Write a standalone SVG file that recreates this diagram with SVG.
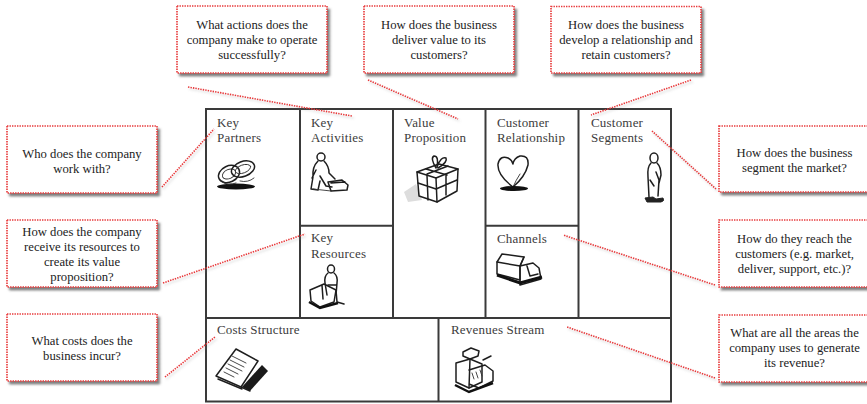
<svg xmlns="http://www.w3.org/2000/svg" width="867" height="404" viewBox="0 0 867 404">
  <defs>
    <filter id="boxShadow" x="-10%" y="-10%" width="125%" height="130%">
      <feDropShadow dx="2.5" dy="3" stdDeviation="1.3" flood-color="#555" flood-opacity="0.75"/>
    </filter>
    <filter id="lineShadow" x="-10%" y="-10%" width="120%" height="140%">
      <feDropShadow dx="1.5" dy="2" stdDeviation="1" flood-color="#888" flood-opacity="0.4"/>
    </filter>
  </defs>
  <style>
    .callout rect { fill: #fff; stroke: #e8383a; stroke-width: 1.6; stroke-dasharray: 1.4 1.1; filter: url(#boxShadow); }
    .callout text { font-family: 'Liberation Serif', 'Tinos', 'DejaVu Serif', serif; font-size: 12.7px; fill: #222; text-anchor: middle; }
    .grid line, .grid rect { stroke: #3a3a3a; stroke-width: 2; fill: none; }
    .cell text { font-family: 'Liberation Serif', 'Tinos', 'DejaVu Serif', serif; font-size: 13px; fill: #3c3c3c; letter-spacing: 0.2px; }
    .link { stroke: #e8383a; stroke-width: 1.6; stroke-dasharray: 1.4 1.1; fill: none; filter: url(#lineShadow); }
    .ink { fill: none; stroke: #1e1e1e; stroke-width: 1.5; stroke-linejoin: round; stroke-linecap: round; }
    .inkthin { fill: none; stroke: #333; stroke-width: 0.9; stroke-linejoin: round; stroke-linecap: round; }
  </style>

  <rect width="867" height="404" fill="#fff"/>

  <!-- Business model canvas grid -->
  <g id="canvas" class="grid">
    <rect x="206" y="109" width="465" height="292.5" fill="#fff"/>
    <line x1="300" y1="109" x2="300" y2="318"/>
    <line x1="393" y1="109" x2="393" y2="318"/>
    <line x1="485.5" y1="109" x2="485.5" y2="318"/>
    <line x1="578.5" y1="109" x2="578.5" y2="318"/>
    <line x1="300" y1="225.7" x2="393" y2="225.7"/>
    <line x1="485.5" y1="225.7" x2="578.5" y2="225.7"/>
    <line x1="206" y1="318" x2="671" y2="318"/>
    <line x1="438.5" y1="318" x2="438.5" y2="401.5"/>
  </g>

  <!-- Canvas cells -->
  <g id="key-partners" class="cell">
    <text x="217" y="127" font-family="Liberation Serif, serif">Key</text>
    <text x="217" y="142" font-family="Liberation Serif, serif">Partners</text>
    <ellipse cx="236" cy="186.5" rx="19" ry="3" fill="#111"/>
    <ellipse cx="229" cy="174" rx="11" ry="8" transform="rotate(-25 229 174)" class="ink"/>
    <ellipse cx="229" cy="174" rx="7" ry="4.5" transform="rotate(-25 229 174)" class="inkthin"/>
    <ellipse cx="243" cy="169" rx="12" ry="7.5" transform="rotate(-20 243 169)" class="ink"/>
    <ellipse cx="243" cy="169" rx="8" ry="4" transform="rotate(-20 243 169)" class="inkthin"/>
    <path d="M222 182 q6 4 14 1 M240 181 q8 2 14 -3" class="inkthin"/>
  </g>

  <g id="key-activities" class="cell">
    <text x="311" y="127">Key</text>
    <text x="311" y="142">Activities</text>
    <circle cx="321" cy="157" r="4" class="ink"/>
    <path d="M318 161 q-6 6 -5 16 l-2 12 l7 1 l2 -9 M324 161 q5 5 5 12 l6 6 M316 170 l-4 8 M320 176 l6 10 l6 1" class="ink"/>
    <path d="M328 182 l14 -2 l6 5 l-1 5 l-16 1 z M331 183 l14 -1" class="ink"/>
    <path d="M313 189 l18 2" class="inkthin"/>
  </g>

  <g id="value-proposition" class="cell">
    <text x="404" y="127">Value</text>
    <text x="404" y="142">Proposition</text>
    <path d="M404 192 l12 -8 l6 16 l-14 2 z" fill="#ddd" stroke="none"/>
    <path d="M417 172 l22 -8 l19 5 l-22 9 z" class="ink"/>
    <path d="M417 172 l2 24 l18 6 l-1 -24" class="ink"/>
    <path d="M458 169 l-1 22 l-20 11" class="ink"/>
    <path d="M426 169 l21 6 M448 166 l-21 8 M427 175 l1 25 M446 174 l0 21 M418 183 l18 6 l21 -9" class="ink"/>
    <path d="M436 168 q-6 -10 -2 -12 q5 0 3 11 q4 -11 9 -9 q2 4 -8 10" class="ink"/>
  </g>

  <g id="customer-relationship" class="cell">
    <text x="497" y="127">Customer</text>
    <text x="497" y="142">Relationship</text>
    <path d="M513 187 q-16 -12 -15 -23 q2 -9 10 -6 q4 2 5 6 q1 -6 7 -8 q9 -1 8 9 q-3 12 -15 22" class="ink"/>
    <path d="M520 174 q-4 6 -7 13" class="inkthin"/>
    <ellipse cx="514" cy="188.5" rx="14" ry="2.5" fill="#111"/>
  </g>

  <g id="customer-segments" class="cell">
    <text x="591" y="127">Customer</text>
    <text x="591" y="142">Segments</text>
    <ellipse cx="654" cy="158" rx="4" ry="5" class="ink"/>
    <path d="M651 163 q-4 4 -3 14 l1 20 M657 163 q4 4 4 12 l-2 8 M656 172 l3 8 l-1 16 M650 180 l4 6" class="ink"/>
    <path d="M645 198 l8 -1 l3 2 l7 -1 q2 3 -2 4 l-14 0 z" fill="#222" stroke="#222" stroke-width="1"/>
  </g>

  <g id="key-resources" class="cell">
    <text x="311" y="242">Key</text>
    <text x="311" y="258">Resources</text>
    <ellipse cx="331" cy="269" rx="3.5" ry="4" class="ink"/>
    <path d="M328 273 q-4 3 -3 10 l2 12 M334 273 q4 3 3 10 l-1 12 M328 285 l8 0" class="ink"/>
    <path d="M310 290 l14 -6 l12 6 l-2 12 l-14 5 l-9 -6 z M322 285 l1 14" class="ink"/>
    <path d="M336 290 l1 12 l7 2" class="ink"/>
    <path d="M309 302 l11 6 l18 -5" stroke="#111" stroke-width="2.5" fill="none"/>
  </g>

  <g id="channels" class="cell">
    <text x="497" y="243">Channels</text>
    <path d="M497 262 l5 -8 l22 3 l-4 9 z" class="ink"/>
    <path d="M497 262 l0 12 l23 6 l0 -14" class="ink"/>
    <path d="M524 257 l-4 9 M520 266 l13 -3 l6 5 l2 11 l-21 6 z M527 266 l3 10 l8 -2" class="ink"/>
    <path d="M497 275 l23 8 l22 -6" stroke="#111" stroke-width="3" fill="none"/>
  </g>

  <g id="costs-structure" class="cell">
    <text x="217" y="334">Costs Structure</text>
    <path d="M216 376 l20 -27 l22 12 l-17 26 z" class="ink"/>
    <path d="M232 356 l14 7 M230 360 l14 7 M228 364 l14 7 M226 368 l12 6 M224 372 l10 5" class="inkthin"/>
    <path d="M242 387 l20 -22 l6 6 l-18 20 z" fill="#1a1a1a"/>
    <path d="M241 387 l9 4" class="ink"/>
    <path d="M218 379 l24 10" class="ink"/>
  </g>

  <g id="revenues-stream" class="cell">
    <text x="451" y="334">Revenues Stream</text>
    <path d="M463 352 l8 -4 l8 3 l-1 5 l-8 3 l-7 -3 z" class="ink"/>
    <path d="M456 363 l14 -4 l12 5 l0 18 l-13 6 l-13 -6 z" class="ink"/>
    <path d="M470 359 l-1 29 M469 370 l16 -5 l8 6 l0 10 l-14 7 l-10 -4" class="ink"/>
    <path d="M472 373 l2 6 M476 372 l2 6 M480 370 l2 6" class="inkthin"/>
    <path d="M483 360 l8 -4" class="ink"/>
    <path d="M455 385 l14 7 l24 -9" stroke="#111" stroke-width="2.5" fill="none"/>
  </g>

  <!-- Connectors from questions to canvas cells -->
  <g id="connectors">
    <line class="link" x1="188" y1="87" x2="352" y2="116"/>
    <line class="link" x1="368" y1="80" x2="458" y2="119"/>
    <line class="link" x1="691" y1="80" x2="591" y2="115"/>
    <line class="link" x1="162" y1="187" x2="214" y2="129"/>
    <line class="link" x1="163" y1="283" x2="305" y2="234"/>
    <line class="link" x1="165" y1="377" x2="215" y2="337"/>
    <line class="link" x1="716" y1="189" x2="652" y2="131"/>
    <line class="link" x1="715" y1="285" x2="563" y2="235"/>
    <line class="link" x1="715" y1="378" x2="567" y2="327"/>
  </g>

  <!-- Question callouts -->
  <g id="q-key-activities" class="callout">
    <rect x="177" y="6" width="150" height="67"/>
    <text x="252" y="29">What actions does the</text>
    <text x="252" y="44">company make to operate</text>
    <text x="252" y="59">successfully?</text>
  </g>
  <g id="q-value-proposition" class="callout">
    <rect x="364" y="6" width="150" height="67"/>
    <text x="439" y="29">How does the business</text>
    <text x="439" y="44">deliver value to its</text>
    <text x="439" y="59">customers?</text>
  </g>
  <g id="q-customer-relationship" class="callout">
    <rect x="551" y="6.5" width="150" height="66.5"/>
    <text x="626" y="29">How does the business</text>
    <text x="626" y="44">develop a relationship and</text>
    <text x="626" y="59">retain customers?</text>
  </g>
  <g id="q-key-partners" class="callout">
    <rect x="7" y="126" width="150" height="67"/>
    <text x="82" y="157.5">Who does the company</text>
    <text x="82" y="172.5">work with?</text>
  </g>
  <g id="q-key-resources" class="callout">
    <rect x="7" y="220" width="150" height="67"/>
    <text x="82" y="236">How does the company</text>
    <text x="82" y="251">receive its resources to</text>
    <text x="82" y="266">create its value</text>
    <text x="82" y="281">proposition?</text>
  </g>
  <g id="q-costs" class="callout">
    <rect x="7" y="314" width="150" height="67"/>
    <text x="82" y="345">What costs does the</text>
    <text x="82" y="360">business incur?</text>
  </g>
  <g id="q-customer-segments" class="callout">
    <rect x="719" y="126" width="152" height="66"/>
    <text x="794.5" y="157">How does the business</text>
    <text x="794.5" y="172">segment the market?</text>
  </g>
  <g id="q-channels" class="callout">
    <rect x="719" y="220" width="152" height="67"/>
    <text x="794.5" y="243">How do they reach the</text>
    <text x="794.5" y="258">customers (e.g. market,</text>
    <text x="794.5" y="273">deliver, support, etc.)?</text>
  </g>
  <g id="q-revenues" class="callout">
    <rect x="719" y="315" width="152" height="67"/>
    <text x="794.5" y="337">What are all the areas the</text>
    <text x="794.5" y="352">company uses to generate</text>
    <text x="794.5" y="367">its revenue?</text>
  </g>
</svg>
